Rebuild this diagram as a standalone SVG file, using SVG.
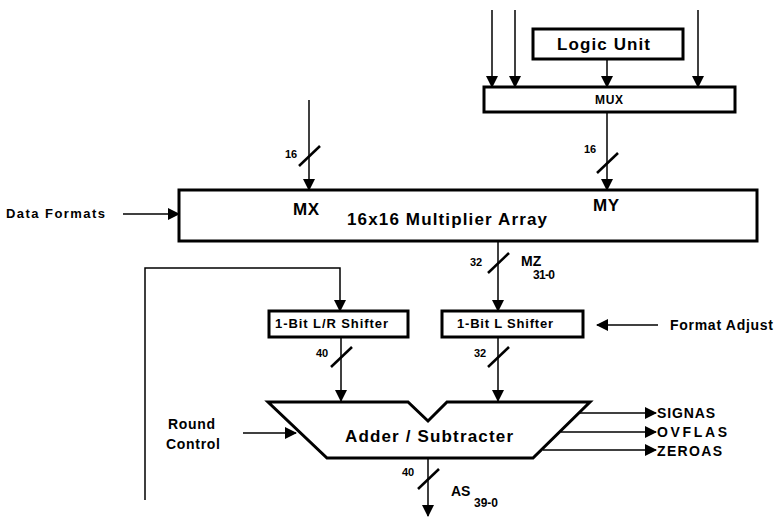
<svg xmlns="http://www.w3.org/2000/svg" width="775" height="519" viewBox="0 0 775 519">
<defs>
<marker id="ah" viewBox="0 0 12 12" refX="11" refY="6" markerWidth="12" markerHeight="12" markerUnits="userSpaceOnUse" orient="auto">
<path d="M0,0 L12,6 L0,12 Z" fill="#000"/>
</marker>
</defs>
<style>
.box{fill:#fff;stroke:#000;stroke-width:3}
.ar{fill:none;stroke:#000;stroke-width:1.5;marker-end:url(#ah)}
.sl{stroke:#000;stroke-width:2.5}
text{font-family:"Liberation Sans",Arial,sans-serif;font-weight:bold;fill:#000}
.s{font-size:11px}
.m{font-size:14px}
.l{font-size:17px}
</style>
<rect width="775" height="519" fill="#fff"/>
<g id="connectors">
<line class="ar" x1="492" y1="10" x2="492" y2="87"/>
<line class="ar" x1="515" y1="10" x2="515" y2="87"/>
<line class="ar" x1="698" y1="10" x2="698" y2="87"/>
<line class="ar" x1="607" y1="59" x2="607" y2="87"/>
<line class="ar" x1="607" y1="112" x2="607" y2="190"/>
<line class="sl" x1="597" y1="173" x2="618" y2="153"/>
<text class="s" x="584" y="153">16</text>
<line class="ar" x1="309" y1="100" x2="309" y2="190"/>
<line class="sl" x1="299" y1="166" x2="320" y2="146"/>
<text class="s" x="285" y="158">16</text>
<line class="ar" x1="123" y1="214" x2="179" y2="214"/>
<line class="ar" x1="498" y1="241" x2="498" y2="311"/>
<line class="sl" x1="488" y1="273" x2="509" y2="253"/>
<text class="s" x="470" y="266">32</text>
<polyline class="ar" points="145,500 145,268 340,268 340,311"/>
<line class="ar" x1="658" y1="325" x2="597" y2="325"/>
<line class="ar" x1="341" y1="337" x2="341" y2="401"/>
<line class="sl" x1="331" y1="367" x2="352" y2="347"/>
<text class="s" x="316" y="357">40</text>
<line class="ar" x1="498" y1="337" x2="498" y2="401"/>
<line class="sl" x1="488" y1="367" x2="509" y2="347"/>
<text class="s" x="474" y="357">32</text>
<line class="ar" x1="243" y1="433" x2="296" y2="433"/>
<line class="ar" x1="579" y1="413" x2="656" y2="413"/>
<line class="ar" x1="561" y1="432" x2="656" y2="432"/>
<line class="ar" x1="543" y1="450" x2="656" y2="450"/>
<line class="ar" x1="428" y1="458" x2="428" y2="516"/>
<line class="sl" x1="418" y1="489" x2="439" y2="469"/>
<text class="s" x="402" y="476">40</text>
</g>
<g id="logic-unit">
<rect class="box" x="533" y="29" width="150" height="30"/>
<text class="l" x="557" y="50" textLength="93" lengthAdjust="spacing">Logic Unit</text>
</g>
<g id="mux">
<rect class="box" x="484" y="87" width="251" height="25"/>
<text x="595" y="104" font-size="12" textLength="28" lengthAdjust="spacing">MUX</text>
</g>
<g id="multiplier">
<rect class="box" x="179" y="190" width="578" height="51"/>
<text class="l" x="293" y="215" textLength="26" lengthAdjust="spacing">MX</text>
<text class="l" x="593" y="211" textLength="26" lengthAdjust="spacing">MY</text>
<text class="l" x="347" y="225" textLength="200" lengthAdjust="spacing">16x16 Multiplier Array</text>
</g>
<g id="data-formats"><text x="6" y="218" font-size="13" textLength="99" lengthAdjust="spacing">Data Formats</text></g>
<g id="mz-label">
<text class="m" x="521" y="266">MZ</text>
<text x="533" y="279" font-size="12" textLength="22" lengthAdjust="spacing">31-0</text>
</g>
<g id="lr-shifter">
<rect class="box" x="269" y="311" width="139" height="26"/>
<text x="275" y="328" font-size="13" textLength="113" lengthAdjust="spacing">1-Bit L/R Shifter</text>
</g>
<g id="l-shifter">
<rect class="box" x="442" y="311" width="141" height="26"/>
<text x="457" y="328" font-size="13" textLength="96" lengthAdjust="spacing">1-Bit L Shifter</text>
</g>
<g id="format-adjust"><text class="m" x="670" y="330" textLength="103" lengthAdjust="spacing">Format Adjust</text></g>
<g id="adder">
<polygon class="box" points="268,402 408,402 428,421 447,402 590,402 533,458 327,458"/>
<text class="l" x="345" y="442" textLength="168" lengthAdjust="spacing">Adder / Subtracter</text>
</g>
<g id="round-control">
<text class="m" x="168" y="429" textLength="47" lengthAdjust="spacing">Round</text>
<text class="m" x="166" y="449" textLength="54" lengthAdjust="spacing">Control</text>
</g>
<g id="flags">
<text class="m" x="657" y="418" textLength="58" lengthAdjust="spacing">SIGNAS</text>
<text class="m" x="657" y="437" textLength="70" lengthAdjust="spacing">OVFLAS</text>
<text class="m" x="657" y="456" textLength="65" lengthAdjust="spacing">ZEROAS</text>
</g>
<g id="as-label">
<text class="m" x="451" y="496">AS</text>
<text x="474" y="507" font-size="12" textLength="24" lengthAdjust="spacing">39-0</text>
</g>
</svg>
